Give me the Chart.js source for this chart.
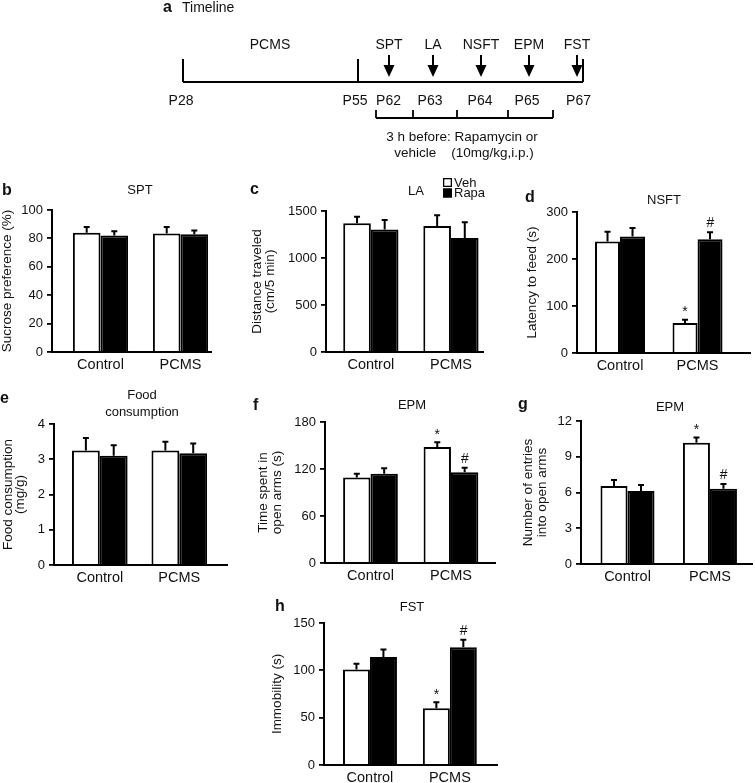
<!DOCTYPE html>
<html>
<head>
<meta charset="utf-8">
<script src="https://cdn.jsdelivr.net/npm/chart.js@4.4.0/dist/chart.umd.min.js"></script>
<style>
  html, body { margin: 0; padding: 0; background: #fff; }
  body { width: 755px; height: 783px; position: relative; overflow: hidden; }
  .panel { position: absolute; }
</style>
</head>
<body>
<script>
const FONT = '"Liberation Sans", Arial, Helvetica, sans-serif';
Chart.defaults.font.family = FONT;
Chart.defaults.color = '#111';
Chart.defaults.animation = false;

// ---- data ----
const groups = ['Control', 'PCMS'];

// timeline (panel a)
const tlDays = ['P28', 'P55', 'P62', 'P63', 'P64', 'P65', 'P67'];
const tlTests = ['SPT', 'LA', 'NSFT', 'EPM', 'FST'];
const tlPhase = 'PCMS';
const tlNote = ['3 h before: Rapamycin or', 'vehicle    (10mg/kg,i.p.)'];

// b SPT
const sptVeh = [84, 83.5], sptVehErr = [4, 4.5];
const sptRapa = [82, 83], sptRapaErr = [3, 2.5];
const sptTicks = [0, 20, 40, 60, 80, 100];

// c LA
const laVeh = [1370, 1341], laVehErr = [70, 113];
const laRapa = [1302, 1214], laRapaErr = [103, 166];
const laTicks = [0, 500, 1000, 1500];

// d NSFT
const nsftVeh = [237, 64], nsftVehErr = [21, 7];
const nsftRapa = [248, 242], nsftRapaErr = [18, 15];
const nsftTicks = [0, 100, 200, 300];

// e food consumption
const foodVeh = [3.25, 3.25], foodVehErr = [0.35, 0.25];
const foodRapa = [3.1, 3.17], foodRapaErr = [0.3, 0.28];
const foodTicks = [0, 1, 2, 3, 4];

// f EPM time in open arms
const epmTimeVeh = [109, 148], epmTimeVehErr = [5, 6];
const epmTimeRapa = [114, 116], epmTimeRapaErr = [7, 5.5];
const epmTimeTicks = [0, 60, 120, 180];

// g EPM entries
const epmEntryVeh = [6.55, 10.17], epmEntryVehErr = [0.5, 0.45];
const epmEntryRapa = [6.13, 6.32], epmEntryRapaErr = [0.5, 0.4];
const epmEntryTicks = [0, 3, 6, 9, 12];

// h FST
const fstVeh = [101, 60], fstVehErr = [6, 6.4];
const fstRapa = [114, 124.3], fstRapaErr = [8, 8];
const fstTicks = [0, 50, 100, 150];

// significance marks
const vehMarks = ['', '*'];
const rapaMarks = ['', '#'];

// ---- layout ----
const panels = [
  { letter: 'b', title: ['SPT'], yTitle: 'Sucrose preference (%)',
    veh: sptVeh, vehErr: sptVehErr, rapa: sptRapa, rapaErr: sptRapaErr, ticks: sptTicks,
    area: [52, 210, 211, 352], top: 172, xRange: [-0.606, 1.381], cat: 0.69,
    yTitleX: 8, yTitleLH: 13, letterAt: [2, 191], titleAt: [140, 190] },
  { letter: 'c', title: ['LA'], yTitle: ['Distance traveled', '(cm/5 min)'],
    veh: laVeh, vehErr: laVehErr, rapa: laRapa, rapaErr: laRapaErr, ticks: laTicks,
    area: [326, 211, 483, 352], top: 172, xRange: [-0.56, 1.40], cat: 0.69,
    yTitleX: 257.7, yTitleLH: 13, letterAt: [250, 190], titleAt: [416, 191], legendAt: [443, 178] },
  { letter: 'd', title: ['NSFT'], yTitle: 'Latency to feed (s)',
    veh: nsftVeh, vehErr: nsftVehErr, rapa: nsftRapa, rapaErr: nsftRapaErr, ticks: nsftTicks,
    vehMarks: vehMarks, rapaMarks: rapaMarks,
    area: [577, 212, 750, 353], top: 172, xRange: [-0.555, 1.677], cat: 0.645,
    yTitleX: 533, yTitleLH: 13, letterAt: [525, 198], titleAt: [664, 200] },
  { letter: 'e', title: ['Food', 'consumption'], yTitle: ['Food consumption', '(mg/g)'],
    veh: foodVeh, vehErr: foodVehErr, rapa: foodRapa, rapaErr: foodRapaErr, ticks: foodTicks,
    area: [54, 424, 227, 565], top: 384, xRange: [-0.576, 1.6], cat: 0.70,
    yTitleX: 8.5, yTitleLH: 11.5, letterAt: [0, 399], titleAt: [142, 395] },
  { letter: 'f', title: ['EPM'], yTitle: ['Time spent in', 'open arms (s)'],
    veh: epmTimeVeh, vehErr: epmTimeVehErr, rapa: epmTimeRapa, rapaErr: epmTimeRapaErr, ticks: epmTimeTicks,
    vehMarks: vehMarks, rapaMarks: rapaMarks,
    area: [325, 422, 495, 563], top: 384, xRange: [-0.565, 1.547], cat: 0.68,
    yTitleX: 264, yTitleLH: 13.5, letterAt: [253, 406], titleAt: [412, 405] },
  { letter: 'g', title: ['EPM'], yTitle: ['Number of entries', 'into open arms'],
    veh: epmEntryVeh, vehErr: epmEntryVehErr, rapa: epmEntryRapa, rapaErr: epmEntryRapaErr, ticks: epmEntryTicks,
    vehMarks: vehMarks, rapaMarks: rapaMarks,
    area: [581, 421, 752, 564], top: 384, xRange: [-0.564, 1.51], cat: 0.655,
    yTitleX: 528, yTitleLH: 14.5, letterAt: [518, 405], titleAt: [670, 407] },
  { letter: 'h', title: ['FST'], yTitle: 'Immobility (s)',
    veh: fstVeh, vehErr: fstVehErr, rapa: fstRapa, rapaErr: fstRapaErr, ticks: fstTicks,
    vehMarks: vehMarks, rapaMarks: rapaMarks,
    area: [324, 623, 497, 765], top: 592, xRange: [-0.575, 1.59], cat: 0.675,
    yTitleX: 278, yTitleLH: 13, letterAt: [275, 607], titleAt: [412, 607] }
];

function addBox(left, top, w, h) {
  const box = document.createElement('div');
  box.className = 'panel';
  box.style.left = left + 'px';
  box.style.top = top + 'px';
  box.style.width = w + 'px';
  box.style.height = h + 'px';
  const cv = document.createElement('canvas');
  box.appendChild(cv);
  document.body.appendChild(box);
  return cv;
}

// error bars (upward only) + significance marks
const errorBars = {
  id: 'errorBars',
  afterDatasetsDraw(chart) {
    const ctx = chart.ctx, y = chart.scales.y;
    ctx.save();
    ctx.strokeStyle = '#000';
    ctx.fillStyle = '#111';
    ctx.lineWidth = 2;
    ctx.textAlign = 'center';
    ctx.textBaseline = 'bottom';
    chart.data.datasets.forEach((ds, di) => {
      chart.getDatasetMeta(di).data.forEach((bar, i) => {
        const top = y.getPixelForValue(ds.data[i].y + ds.errors[i]);
        ctx.beginPath();
        ctx.moveTo(bar.x, bar.y);
        ctx.lineTo(bar.x, top);
        ctx.moveTo(bar.x - 3, top);
        ctx.lineTo(bar.x + 3, top);
        ctx.stroke();
        if (ds.marks && ds.marks[i]) {
          ctx.font = (ds.marks[i] === '#' ? 'italic 14px ' : '14px ') + FONT;
          ctx.fillText(ds.marks[i], bar.x, top - (ds.marks[i] === '#' ? 2 : 0));
        }
      });
    });
    ctx.restore();
  }
};

function decoPlugin(p, ox, oy) {
  return {
    id: 'deco',
    afterDraw(chart) {
      const ctx = chart.ctx;
      ctx.save();
      ctx.fillStyle = '#111';
      ctx.textBaseline = 'middle';
      ctx.textAlign = 'left';
      ctx.font = 'bold 16px ' + FONT;
      ctx.fillText(p.letter, p.letterAt[0] - ox, p.letterAt[1] - oy);
      ctx.font = '13px ' + FONT;
      ctx.textAlign = 'center';
      p.title.forEach((t, i) => ctx.fillText(t, p.titleAt[0] - ox, p.titleAt[1] - oy + i * 17));
      if (p.legendAt) {
        ctx.font = '13px ' + FONT;
        ctx.textAlign = 'left';
        chart.data.datasets.forEach((ds, i) => {
          const x = p.legendAt[0] - ox, yy = p.legendAt[1] - oy + i * 10.5;
          ctx.fillStyle = ds.backgroundColor;
          ctx.fillRect(x, yy, 9, 9);
          ctx.strokeStyle = '#000';
          ctx.lineWidth = 1.3;
          ctx.strokeRect(x + 0.65, yy + 0.65, 7.7, 7.7);
          ctx.fillStyle = '#111';
          ctx.fillText(ds.label, x + 11, yy + 5);
        });
      }
      ctx.restore();
    }
  };
}

const PAD_LEFT = 14;

panels.forEach(p => {
  const W = Math.round(p.area[0] - p.yTitleX + p.yTitleLH / 2);
  const left = p.area[0] - W - PAD_LEFT;
  const padTop = p.area[1] - p.top;
  const width = p.area[2] - left + 3;
  const height = p.area[3] - p.top + 24;
  const cv = addBox(left, p.top, width, height);

  new Chart(cv, {
    type: 'bar',
    data: {
      datasets: [
        { label: 'Veh', data: groups.map((g, i) => ({ x: i, y: p.veh[i] })),
          errors: p.vehErr, marks: p.vehMarks,
          backgroundColor: '#fff', borderColor: '#000', borderWidth: 2, borderSkipped: 'bottom' },
        { label: 'Rapa', data: groups.map((g, i) => ({ x: i, y: p.rapa[i] })),
          errors: p.rapaErr, marks: p.rapaMarks,
          backgroundColor: '#000', borderColor: '#000', borderWidth: 2, borderSkipped: 'bottom' }
      ]
    },
    options: {
      responsive: true,
      maintainAspectRatio: false,
      layout: { padding: { top: padTop, right: 3, left: PAD_LEFT, bottom: 0 } },
      datasets: { bar: { categoryPercentage: p.cat, barPercentage: 1 } },
      plugins: { legend: { display: false }, tooltip: { enabled: false } },
      scales: {
        x: {
          type: 'linear', offset: false,
          min: p.xRange[0], max: p.xRange[1],
          grid: { display: false, drawTicks: false },
          border: { display: true, color: '#000', width: 2 },
          ticks: { padding: 4, color: '#111', font: { size: 14.5 }, callback: v => groups[v] ?? '' },
          afterBuildTicks: s => { s.ticks = groups.map((g, i) => ({ value: i })); },
          afterFit: s => { s.height = 24; }
        },
        y: {
          min: p.ticks[0], max: p.ticks[p.ticks.length - 1],
          ticks: { padding: 4, color: '#111', font: { size: 13 }, callback: v => v },
          afterBuildTicks: s => { s.ticks = p.ticks.map(v => ({ value: v })); },
          grid: { drawOnChartArea: false, drawTicks: true, tickLength: 5, color: '#000', lineWidth: 1.8 },
          border: { display: true, color: '#000', width: 2 },
          title: { display: true, text: p.yTitle, color: '#111', padding: 0,
                   font: { size: 13.5, lineHeight: p.yTitleLH / 13.5 } },
          afterFit: s => { s.width = W; }
        }
      }
    },
    plugins: [errorBars, decoPlugin(p, left, p.top)]
  });
});

// ---- panel a: timeline ----
const tlLine = { y: 82, from: 183, to: 583 };
const tlTickX = [183, 358, 583];
const tlDayX = [181, 355, 388.5, 430, 480, 527, 578.5];
const tlTestX = [389, 433, 481, 529, 577];
const tlBracketX = [376, 413, 457, 508, 553];

const timeline = {
  id: 'timeline',
  afterDraw(chart) {
    const ctx = chart.ctx, sx = chart.scales.x, sy = chart.scales.y;
    const X = v => sx.getPixelForValue(v), Y = v => sy.getPixelForValue(v);
    ctx.save();
    ctx.strokeStyle = '#000';
    ctx.fillStyle = '#111';
    ctx.textBaseline = 'middle';

    ctx.font = 'bold 16px ' + FONT;
    ctx.textAlign = 'left';
    ctx.fillText('a', X(163), Y(8));
    ctx.font = '14px ' + FONT;
    ctx.fillText('Timeline', X(182), Y(8));

    ctx.lineWidth = 2;
    ctx.beginPath();
    ctx.moveTo(X(tlLine.from), Y(tlLine.y));
    ctx.lineTo(X(tlLine.to), Y(tlLine.y));
    tlTickX.forEach(x => { ctx.moveTo(X(x), Y(59)); ctx.lineTo(X(x), Y(tlLine.y)); });
    ctx.stroke();

    ctx.textAlign = 'center';
    ctx.font = '14px ' + FONT;
    ctx.fillText(tlPhase, X(270), Y(45));
    tlDays.forEach((d, i) => ctx.fillText(d, X(tlDayX[i]), Y(101)));
    tlTests.forEach((t, i) => {
      const x = X(tlTestX[i]);
      ctx.fillText(t, x, Y(45));
      ctx.beginPath();
      ctx.moveTo(x, Y(55));
      ctx.lineTo(x, Y(67));
      ctx.stroke();
      ctx.beginPath();
      ctx.moveTo(x - 5.5, Y(65));
      ctx.lineTo(x + 5.5, Y(65));
      ctx.lineTo(x, Y(77));
      ctx.closePath();
      ctx.fillStyle = '#000';
      ctx.fill();
      ctx.fillStyle = '#111';
    });

    ctx.lineWidth = 1.8;
    ctx.beginPath();
    ctx.moveTo(X(tlBracketX[0]), Y(118));
    ctx.lineTo(X(tlBracketX[tlBracketX.length - 1]), Y(118));
    tlBracketX.forEach(x => { ctx.moveTo(X(x), Y(110)); ctx.lineTo(X(x), Y(118)); });
    ctx.stroke();

    ctx.font = '13.5px ' + FONT;
    ctx.fillText(tlNote[0], X(462), Y(137));
    ctx.fillText(tlNote[1], X(464), Y(153));
    ctx.restore();
  }
};

new Chart(addBox(0, 0, 755, 170), {
  type: 'scatter',
  data: { datasets: [] },
  options: {
    responsive: true,
    maintainAspectRatio: false,
    layout: { padding: 0 },
    plugins: { legend: { display: false }, tooltip: { enabled: false } },
    scales: {
      x: { type: 'linear', min: 0, max: 755, display: false },
      y: { type: 'linear', min: 0, max: 170, reverse: true, display: false }
    }
  },
  plugins: [timeline]
});
</script>
</body>
</html>
